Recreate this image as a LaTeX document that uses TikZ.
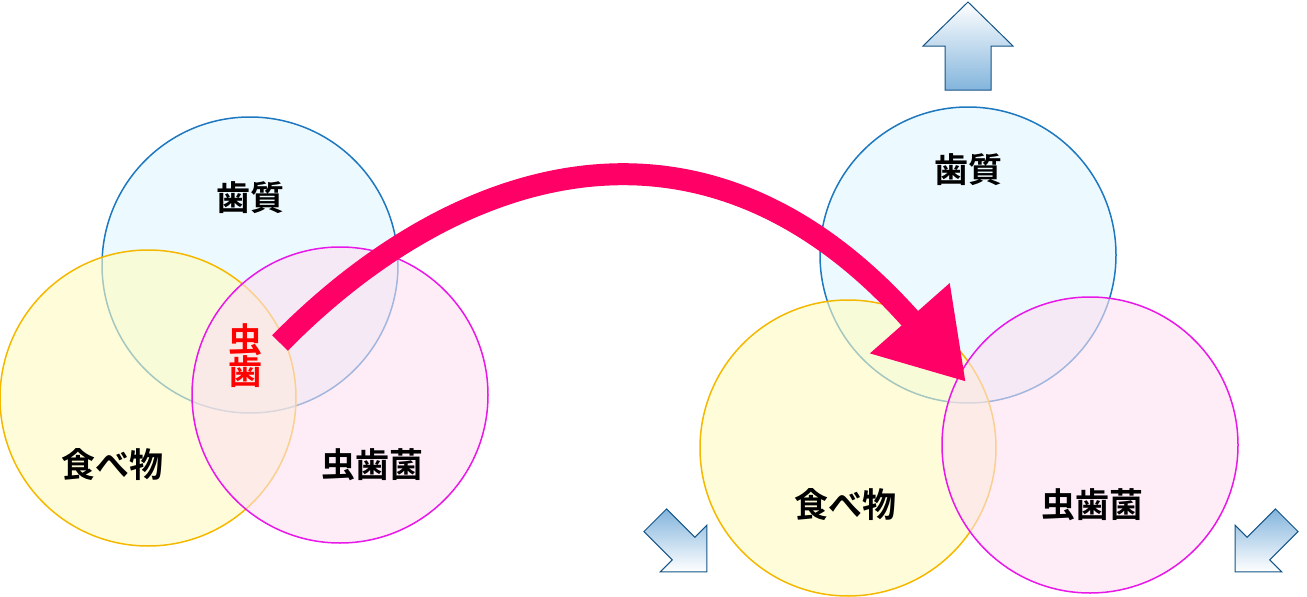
\documentclass[tikz,border=0pt]{standalone}
\usepackage{fontspec}
\newfontfamily\cjk{Noto Sans CJK JP Bold}
\usetikzlibrary{arrows.meta}
\definecolor{toothc}{HTML}{1E78C0}
\definecolor{foodc}{HTML}{F5B800}
\definecolor{germc}{HTML}{E818E8}
\definecolor{cavc}{HTML}{FF0066}
\tikzset{
  tooth/.style={draw=toothc,line width=1.5pt,fill=cyan!12,fill opacity=.6},
  food/.style={draw=foodc,line width=1.5pt,fill=yellow!25,fill opacity=.6},
  germ/.style={draw=germc,line width=1.5pt,fill=magenta!12,fill opacity=.6},
  lbl/.style={font=\cjk\fontsize{34}{36}\selectfont},
  blockarrow/.style={draw=toothc!70!black,line width=1pt,top color=white,bottom color=toothc!55}
}
\begin{document}
\begin{tikzpicture}[x=1pt,y=-1pt]
  \useasboundingbox (0,0) rectangle (1307,597);
  % left group
  \draw[tooth] (250,265) circle (148);
  \draw[food] (148,398) circle (148);
  \draw[germ] (340,395) circle (148);
  \node[lbl] (toothL) at (250,198) {歯質};
  \node[lbl] (foodL) at (112,465) {食べ物};
  \node[lbl] (germL) at (372,465) {虫歯菌};
  \node[lbl,text=red,align=center,inner sep=0pt] (cavity) at (245,356) {虫\\[-4pt]歯};
  % right group
  \draw[tooth] (968,255) circle (148);
  \draw[food] (848,448) circle (148);
  \draw[germ] (1090,445) circle (148);
  \node[lbl] (toothR) at (968,170) {歯質};
  \node[lbl] (foodR) at (845,505) {食べ物};
  \node[lbl] (germR) at (1092,505) {虫歯菌};
  % block arrows
  \draw[blockarrow] (968,2) -- (1013,46) -- (991,46) -- (991,90) -- (945,90) -- (945,46) -- (923,46) -- cycle;
  \begin{scope}[shift={(680,545)},rotate=-135]
    \draw[blockarrow,top color=toothc!55,bottom color=white] (0,-38) -- (33,-5) -- (16,-5) -- (16,35) -- (-16,35) -- (-16,-5) -- (-33,-5) -- cycle;
  \end{scope}
  \begin{scope}[shift={(1262,545)},rotate=135]
    \draw[blockarrow,top color=toothc!55,bottom color=white] (0,-38) -- (33,-5) -- (16,-5) -- (16,35) -- (-16,35) -- (-16,-5) -- (-33,-5) -- cycle;
  \end{scope}
  % transition arrow
  \coordinate (from) at (280,343);
  \coordinate (to) at (966,382);
  \draw[cavc,line width=22pt,-{Triangle[length=85pt,width=100pt]}]
    (from) .. controls (450,170) and (700,80) .. (to);
\end{tikzpicture}
\end{document}
